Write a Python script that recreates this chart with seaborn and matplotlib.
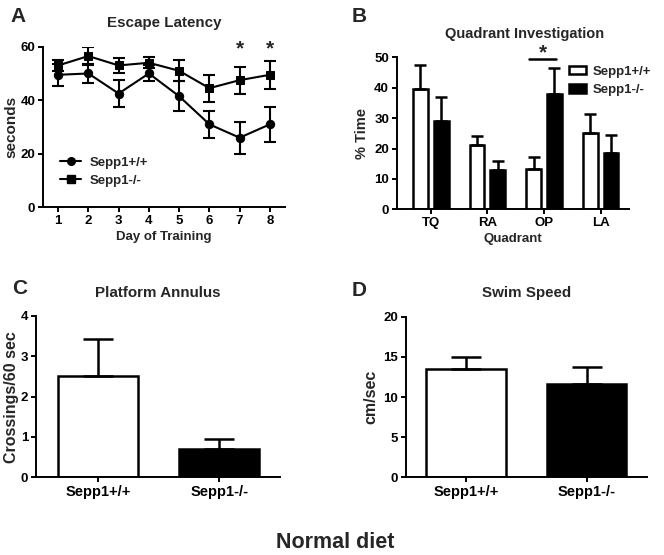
import numpy as np
import pandas as pd
import matplotlib
matplotlib.use("Agg")
import matplotlib.pyplot as plt
from matplotlib.lines import Line2D
from matplotlib.patches import Patch
import seaborn as sns

# ---------------- data ----------------
genotypes = ["Sepp1+/+", "Sepp1-/-"]
days = [1, 2, 3, 4, 5, 6, 7, 8]
latency_wt = [49.5, 50.0, 42.5, 50.0, 41.5, 31.0, 26.0, 31.0]
latency_wt_sem = [4.2, 3.5, 5.0, 3.0, 5.5, 5.0, 6.0, 6.5]
latency_ko = [53.0, 56.5, 53.0, 54.0, 51.0, 44.5, 47.5, 49.5]
latency_ko_sem = [2.0, 3.3, 2.7, 2.0, 4.0, 5.0, 5.0, 5.2]

quadrants = ["TQ", "RA", "OP", "LA"]
quad_wt = [39.5, 21.0, 13.3, 25.0]
quad_wt_sem = [8.0, 3.0, 4.0, 6.3]
quad_ko = [29.0, 13.0, 38.0, 18.5]
quad_ko_sem = [8.0, 3.0, 8.5, 6.0]

annulus = [2.5, 0.7]
annulus_sem = [0.92, 0.26]

speed = [13.5, 11.6]
speed_sem = [1.5, 2.1]

# ---------------- style ----------------
sns.set_theme(style="ticks")
plt.rcParams["font.family"] = ["Liberation Sans", "DejaVu Sans"]
plt.rcParams["font.weight"] = "bold"
plt.rcParams["axes.labelweight"] = "bold"
plt.rcParams["axes.titleweight"] = "bold"
plt.rcParams["axes.linewidth"] = 1.4
plt.rcParams["xtick.major.width"] = 1.4
plt.rcParams["ytick.major.width"] = 1.4
plt.rcParams["xtick.major.size"] = 3.5
plt.rcParams["ytick.major.size"] = 3.5
plt.rcParams["xtick.color"] = "black"
plt.rcParams["ytick.color"] = "black"
plt.rcParams["axes.edgecolor"] = "black"
plt.rcParams["xtick.labelsize"] = 9.5
plt.rcParams["ytick.labelsize"] = 9.5

W, H = 664, 555
fig = plt.figure(figsize=(W / 100, H / 100), dpi=100)
fig.patch.set_facecolor("white")


def add_ax(l, r, t, b):
    return fig.add_axes([l / W, 1 - b / H, (r - l) / W, (b - t) / H])


def style_ax(ax):
    sns.despine(ax=ax)
    for lab in ax.get_xticklabels() + ax.get_yticklabels():
        lab.set_fontweight("bold")
    ax.tick_params(axis="both", pad=2)


palette = {"Sepp1+/+": "white", "Sepp1-/-": "black"}

# ---------------- A: Escape latency ----------------
axA = add_ax(43, 285, 46.7, 207.3)
dfA = pd.DataFrame({
    "day": days * 2,
    "latency": latency_wt + latency_ko,
    "sem": latency_wt_sem + latency_ko_sem,
    "genotype": [genotypes[0]] * len(days) + [genotypes[1]] * len(days),
})
sns.lineplot(data=dfA, x="day", y="latency", style="genotype",
             markers={"Sepp1+/+": "o", "Sepp1-/-": "s"}, dashes=False,
             color="black", markersize=6, linewidth=1.5, errorbar=None,
             legend=False, ax=axA, markeredgecolor="black")
for g in genotypes:
    sub = dfA[dfA.genotype == g]
    axA.errorbar(sub["day"], sub["latency"], yerr=sub["sem"], fmt="none",
                 ecolor="black", elinewidth=1.5, capsize=4, capthick=1.5)
axA.set_xlim(0.5, 8.5)
axA.set_ylim(0, 60)
axA.set_xticks(days)
axA.set_yticks([0, 20, 40, 60])
axA.set_xlabel("Day of Training", fontsize=9.5, labelpad=3)
axA.set_ylabel("seconds", fontsize=11, va="center")
axA.yaxis.set_label_coords(-0.13, 0.5)
axA.set_title("Escape Latency", fontsize=10.9, pad=14)
for d in [7, 8]:
    axA.text(d, 57, "*", ha="center", va="baseline", fontsize=15,
             fontweight="bold", clip_on=False)
hA = [Line2D([], [], color="black", marker="o", markersize=5.5, lw=1.5),
      Line2D([], [], color="black", marker="s", markersize=5.5, lw=1.5)]
axA.legend(hA, genotypes, loc="upper left", bbox_to_anchor=(0.05, 0.35),
           frameon=False, prop={"weight": "bold", "size": 9.5},
           handlelength=1.6, handletextpad=0.6, labelspacing=0.45,
           borderaxespad=0)
style_ax(axA)

# ---------------- B: Quadrant investigation ----------------
axB = add_ax(396.7, 629, 57.3, 209.3)
dfB = pd.DataFrame({
    "quadrant": [q for q in quadrants for _ in genotypes],
    "genotype": genotypes * len(quadrants),
    "pct": [v for pair in zip(quad_wt, quad_ko) for v in pair],
    "sem": [v for pair in zip(quad_wt_sem, quad_ko_sem) for v in pair],
})
sns.barplot(data=dfB, x="quadrant", y="pct", hue="genotype",
            order=quadrants, hue_order=genotypes, palette=palette,
            edgecolor="black", linewidth=1.8, width=0.74, gap=0.3,
            errorbar=None, legend=False, ax=axB, saturation=1)
patchesB = sorted(axB.patches, key=lambda p: p.get_x())
xs = [p.get_x() + p.get_width() / 2 for p in patchesB]
axB.errorbar(xs, dfB["pct"], yerr=[np.zeros(len(dfB)), dfB["sem"]],
             fmt="none", ecolor="black", elinewidth=1.8, capsize=4,
             capthick=1.8, zorder=1)
axB.set_xlim(-0.6, 3.5)
axB.set_ylim(0, 50)
axB.set_yticks([0, 10, 20, 30, 40, 50])
axB.set_xlabel("Quadrant", fontsize=9.5, labelpad=3)
axB.set_ylabel("% Time", fontsize=10.5, labelpad=4)
axB.set_title("Quadrant Investigation", fontsize=10.5, pad=14, x=0.552)
op_w = patchesB[4]
op_k = patchesB[5]
x0 = op_w.get_x() + op_w.get_width() * 0.2
x1 = op_k.get_x() + op_k.get_width() * 0.6
axB.plot([x0, x1], [49.6, 49.6], color="black", lw=1.8, clip_on=False)
axB.text((x0 + x1) / 2, 49.5, "*", ha="center", va="baseline", fontsize=15,
         fontweight="bold", clip_on=False)
hB = [Patch(facecolor="white", edgecolor="black", linewidth=1.8),
      Patch(facecolor="black", edgecolor="black", linewidth=1.8)]
axB.legend(hB, genotypes, loc="upper left", bbox_to_anchor=(0.72, 0.98),
           frameon=False, prop={"weight": "bold", "size": 9.5},
           handlelength=1.3, handleheight=0.6, handletextpad=0.5,
           labelspacing=0.5, borderaxespad=0)
style_ax(axB)

# ---------------- C: Platform annulus ----------------
axC = add_ax(36, 280, 316, 477.3)
dfC = pd.DataFrame({"genotype": genotypes, "val": annulus, "sem": annulus_sem})
sns.barplot(data=dfC, x="genotype", y="val", hue="genotype", order=genotypes,
            hue_order=genotypes, palette=palette, edgecolor="black",
            linewidth=1.8, width=0.66, errorbar=None, legend=False, ax=axC,
            saturation=1)
pC = sorted(axC.patches, key=lambda p: p.get_x())
axC.errorbar([p.get_x() + p.get_width() / 2 for p in pC], dfC["val"],
             yerr=[np.zeros(2), dfC["sem"]], fmt="none", ecolor="black",
             elinewidth=1.8, capsize=11, capthick=1.8, zorder=1)
axC.set_xlim(-0.515, 1.5)
axC.set_ylim(0, 4)
axC.set_yticks([0, 1, 2, 3, 4])
axC.set_xlabel("")
axC.set_ylabel("Crossings/60 sec", fontsize=11.5, va="center")
axC.yaxis.set_label_coords(-0.1, 0.5)
axC.set_title("Platform Annulus", fontsize=10.9, pad=14)
axC.tick_params(axis="x", labelsize=10.5)
style_ax(axC)

# ---------------- D: Swim speed ----------------
axD = add_ax(406, 646.7, 316.7, 477.3)
dfD = pd.DataFrame({"genotype": genotypes, "val": speed, "sem": speed_sem})
sns.barplot(data=dfD, x="genotype", y="val", hue="genotype", order=genotypes,
            hue_order=genotypes, palette=palette, edgecolor="black",
            linewidth=1.8, width=0.66, errorbar=None, legend=False, ax=axD,
            saturation=1)
pD = sorted(axD.patches, key=lambda p: p.get_x())
axD.errorbar([p.get_x() + p.get_width() / 2 for p in pD], dfD["val"],
             yerr=[np.zeros(2), dfD["sem"]], fmt="none", ecolor="black",
             elinewidth=1.8, capsize=11, capthick=1.8, zorder=1)
axD.set_xlim(-0.5, 1.5)
axD.set_ylim(0, 20)
axD.set_yticks([0, 5, 10, 15, 20])
axD.set_xlabel("")
axD.set_ylabel("cm/sec", fontsize=11.5, labelpad=4)
axD.set_title("Swim Speed", fontsize=10.9, pad=14)
axD.tick_params(axis="x", labelsize=10.5)
style_ax(axD)

# ---------------- panel letters & footer ----------------
for letter, x, y in [("A", 10, 16), ("B", 352, 16), ("C", 12, 288), ("D", 352, 290)]:
    fig.text(x / W, 1 - y / H, letter, fontsize=15, fontweight="bold",
             ha="left", va="center")
fig.text(335 / W, 1 - 542 / H, "Normal diet", fontsize=15.5,
         fontweight="bold", ha="center", va="center")

fig.savefig("out.png", dpi=100, facecolor="white")
